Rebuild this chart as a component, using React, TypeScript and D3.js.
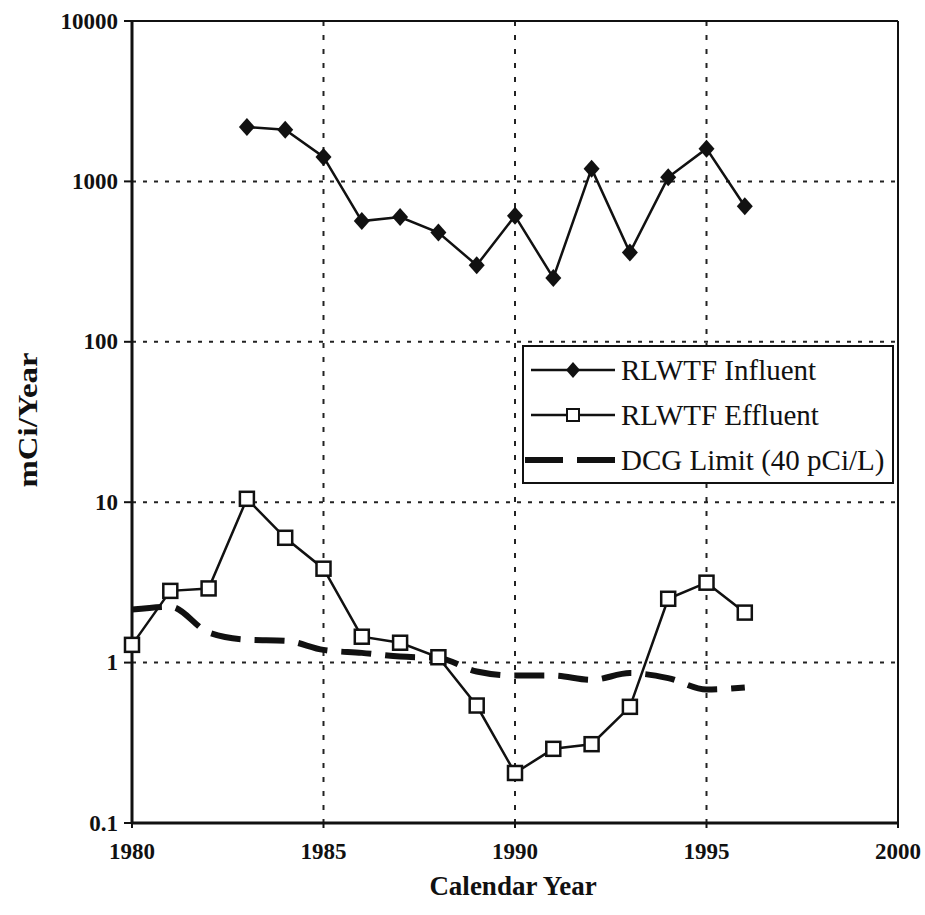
import * as d3 from "d3";

const influentYears = [1983, 1984, 1985, 1986, 1987, 1988, 1989, 1990, 1991, 1992, 1993, 1994, 1995, 1996];
const influentValues = [2180, 2100, 1420, 566, 600, 480, 300, 610, 250, 1200, 360, 1060, 1600, 700];

const effluentYears = [1980, 1981, 1982, 1983, 1984, 1985, 1986, 1987, 1988, 1989, 1990, 1991, 1992, 1993, 1994, 1995, 1996];
const effluentValues = [1.29, 2.8, 2.9, 10.5, 6.0, 3.85, 1.45, 1.33, 1.08, 0.54, 0.205, 0.29, 0.31, 0.53, 2.5, 3.15, 2.05];

const dcgYears = [1980, 1981, 1982, 1983, 1984, 1985, 1986, 1987, 1988, 1989, 1990, 1991, 1992, 1993, 1994, 1995, 1996];
const dcgValues = [2.14, 2.23, 1.54, 1.39, 1.37, 1.2, 1.15, 1.09, 1.07, 0.88, 0.83, 0.83, 0.78, 0.86, 0.8, 0.68, 0.7];

const xTicks = [1980, 1985, 1990, 1995, 2000];
const yTicks = [0.1, 1, 10, 100, 1000, 10000];
const yTickLabels = ["0.1", "1", "10", "100", "1000", "10000"];
const legendLabels = ["RLWTF Influent", "RLWTF Effluent", "DCG Limit (40 pCi/L)"];

const W = 925;
const H = 915;
const left = 132;
const right = 898;
const top = 21;
const bottom = 823;
const serif = "'Liberation Serif', 'Times New Roman', serif";

// filled diamond marker, a bit taller than wide like the scan
const diamond = (cx: number, cy: number, r = 9) =>
  `M${cx},${cy - r}L${cx + r - 1},${cy}L${cx},${cy + r}L${cx - r + 1},${cy}Z`;

export default function App() {
  const x = d3.scaleLinear().domain([1980, 2000]).range([left, right]);
  const y = d3.scaleLog().domain([0.1, 10000]).range([bottom, top]);

  const line = d3
    .line<[number, number]>()
    .x(d => x(d[0]))
    .y(d => y(d[1]));

  const inf = influentYears.map((yr, i) => [yr, influentValues[i]] as [number, number]);
  const eff = effluentYears.map((yr, i) => [yr, effluentValues[i]] as [number, number]);
  const dcg = dcgYears.map((yr, i) => [yr, dcgValues[i]] as [number, number]);

  const dcgLine = d3
    .line<[number, number]>()
    .x(d => x(d[0]))
    .y(d => y(d[1]))
    .curve(d3.curveMonotoneX);

  const lgX = 523;
  const lgY = 346;
  const lgW = 370;
  const lgH = 137;
  const rowY = [370, 415, 460];

  return (
    <svg
      width={W}
      height={H}
      style={{ position: "absolute", left: 0, top: 0, background: "#fff" }}
      fontFamily={serif}
    >
      <rect x={0} y={0} width={W} height={H} fill="#fff" />

      {/* grid */}
      {yTicks.slice(1, -1).map(t => (
        <line
          key={"gy" + t}
          x1={left}
          x2={right}
          y1={y(t)}
          y2={y(t)}
          stroke="#222"
          strokeWidth={2}
          strokeDasharray="4 7"
        />
      ))}
      {xTicks.slice(1, -1).map(t => (
        <line
          key={"gx" + t}
          x1={x(t)}
          x2={x(t)}
          y1={top}
          y2={bottom}
          stroke="#222"
          strokeWidth={2}
          strokeDasharray="5 9"
        />
      ))}

      {/* frame */}
      <line x1={left} x2={right} y1={top} y2={top} stroke="#111" strokeWidth={2} />
      <line x1={right} x2={right} y1={top} y2={bottom} stroke="#111" strokeWidth={2} />
      <line x1={left} x2={left} y1={top} y2={bottom} stroke="#111" strokeWidth={3} />
      <line x1={left} x2={right} y1={bottom} y2={bottom} stroke="#111" strokeWidth={3} />

      {/* y ticks */}
      {yTicks.map((t, i) => (
        <g key={"yt" + t}>
          <line x1={left - 8} x2={left} y1={y(t)} y2={y(t)} stroke="#111" strokeWidth={2} />
          <text
            x={left - 14}
            y={y(t)}
            textAnchor="end"
            dominantBaseline="central"
            fontSize={23}
            fontWeight="bold"
            fill="#111"
          >
            {yTickLabels[i]}
          </text>
        </g>
      ))}

      {/* x ticks */}
      {xTicks.map(t => (
        <g key={"xt" + t}>
          <line x1={x(t)} x2={x(t)} y1={bottom} y2={bottom + 5} stroke="#111" strokeWidth={2} />
          <text
            x={x(t)}
            y={bottom + 36}
            textAnchor="middle"
            fontSize={23}
            fontWeight="bold"
            fill="#111"
          >
            {t}
          </text>
        </g>
      ))}

      <text
        x={(left + right) / 2 - 2}
        y={895}
        textAnchor="middle"
        fontSize={27}
        fontWeight="bold"
        fill="#111"
      >
        Calendar Year
      </text>
      <text
        transform={`translate(37, 420) rotate(-90)`}
        textAnchor="middle"
        fontSize={28}
        fontWeight="bold"
        fill="#111"
        textLength={135}
        lengthAdjust="spacingAndGlyphs"
      >
        mCi/Year
      </text>

      {/* DCG limit */}
      <path
        d={dcgLine(dcg) || ""}
        fill="none"
        stroke="#111"
        strokeWidth={6}
        strokeDasharray="30 14"
      />

      {/* effluent */}
      <path d={line(eff) || ""} fill="none" stroke="#111" strokeWidth={2.5} />
      {eff.map(d => (
        <rect
          key={"e" + d[0]}
          x={x(d[0]) - 7}
          y={y(d[1]) - 7}
          width={14}
          height={14}
          fill="#fff"
          stroke="#111"
          strokeWidth={2.5}
        />
      ))}

      {/* influent */}
      <path d={line(inf) || ""} fill="none" stroke="#111" strokeWidth={2.5} />
      {inf.map(d => (
        <path key={"i" + d[0]} d={diamond(x(d[0]), y(d[1]))} fill="#111" />
      ))}

      {/* legend */}
      <rect x={lgX} y={lgY} width={lgW} height={lgH} fill="#fff" stroke="#111" strokeWidth={2} />
      <line x1={lgX + 8} x2={lgX + 92} y1={rowY[0]} y2={rowY[0]} stroke="#111" strokeWidth={2.5} />
      <path d={diamond(lgX + 50, rowY[0], 8)} fill="#111" />
      <line x1={lgX + 8} x2={lgX + 92} y1={rowY[1]} y2={rowY[1]} stroke="#111" strokeWidth={2.5} />
      <rect x={lgX + 44} y={rowY[1] - 6} width={12} height={12} fill="#fff" stroke="#111" strokeWidth={2} />
      <line
        x1={lgX + 2}
        x2={lgX + 92}
        y1={rowY[2]}
        y2={rowY[2]}
        stroke="#111"
        strokeWidth={6}
        strokeDasharray="38 14"
      />
      {legendLabels.map((l, i) => (
        <text
          key={l}
          x={lgX + 98}
          y={rowY[i]}
          dominantBaseline="central"
          fontSize={29}
          fill="#111"
        >
          {l}
        </text>
      ))}
    </svg>
  );
}
